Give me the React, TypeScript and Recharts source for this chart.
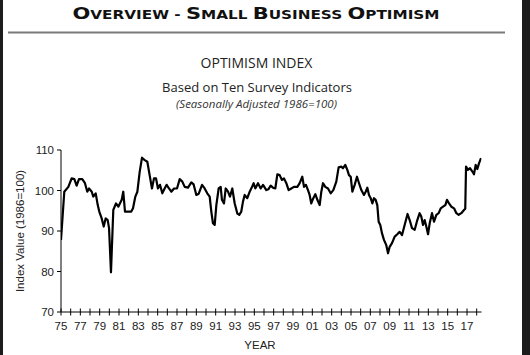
import { LineChart, Line, XAxis, YAxis } from 'recharts';

// Optimism index readings [year, value]
const seventies: [number, number][] = [
  [1975.0, 87.8], [1975.34, 99.7], [1975.76, 100.9], [1976.1, 103.0], [1976.38, 102.8],
  [1976.62, 101.2], [1976.86, 102.8], [1977.2, 102.8], [1977.48, 101.8], [1977.72, 99.7],
  [1977.9, 100.5], [1978.18, 99.7], [1978.34, 98.5], [1978.59, 99.3], [1978.8, 96.4],
  [1978.96, 94.8], [1979.21, 93.1], [1979.42, 91.1], [1979.62, 93.1], [1979.83, 92.7],
  [1979.97, 90.7],
];

const eighties: [number, number][] = [
  [1980.17, 79.8], [1980.41, 95.2], [1980.69, 96.8], [1980.93, 96.0], [1981.28, 97.7],
  [1981.44, 99.7], [1981.62, 94.8], [1982.14, 94.8], [1982.27, 94.8], [1982.45, 95.6],
  [1982.69, 98.5], [1982.9, 99.7], [1983.14, 104.6], [1983.38, 108.1], [1983.66, 107.5],
  [1983.93, 107.1], [1984.17, 103.8], [1984.41, 100.5], [1984.62, 103.0], [1984.83, 103.0],
  [1985.03, 100.5], [1985.24, 101.4], [1985.48, 99.3], [1985.72, 100.5], [1985.93, 101.4],
  [1986.17, 100.5], [1986.41, 99.7], [1986.69, 100.5], [1987.0, 100.5], [1987.28, 102.8],
  [1987.55, 102.2], [1987.8, 100.9], [1988.14, 100.7], [1988.48, 102.0], [1988.72, 101.5],
  [1989.0, 98.9], [1989.25, 99.2], [1989.59, 101.4], [1989.86, 100.5],
];

const nineties: [number, number][] = [
  [1990.13, 99.3], [1990.38, 98.5], [1990.55, 94.8], [1990.72, 91.9], [1990.9, 91.5],
  [1991.07, 96.4], [1991.31, 100.5], [1991.52, 100.9], [1991.65, 97.7], [1991.86, 96.8],
  [1992.04, 100.5], [1992.28, 99.7], [1992.48, 98.5], [1992.72, 100.5], [1992.97, 96.8],
  [1993.24, 94.3], [1993.44, 94.0], [1993.65, 94.8], [1993.83, 97.3], [1994.0, 98.9],
  [1994.27, 98.1], [1994.52, 99.7], [1994.76, 100.9], [1994.93, 101.8], [1995.1, 100.5],
  [1995.38, 101.8], [1995.66, 100.5], [1995.9, 101.4], [1996.24, 100.1], [1996.45, 100.3],
  [1996.69, 101.2], [1996.93, 100.7], [1997.17, 100.5], [1997.38, 104.0], [1997.62, 103.8],
  [1997.86, 102.6], [1998.07, 103.0], [1998.31, 101.8], [1998.55, 100.1], [1998.82, 100.5],
  [1999.1, 100.9], [1999.45, 100.9], [1999.69, 101.8], [1999.96, 103.4],
];

const noughties: [number, number][] = [
  [2000.14, 100.9], [2000.34, 101.4], [2000.55, 100.1], [2000.72, 98.9], [2000.89, 96.8],
  [2001.1, 98.1], [2001.31, 99.1], [2001.52, 97.7], [2001.76, 96.4], [2001.93, 99.7],
  [2002.1, 101.8], [2002.34, 100.9], [2002.62, 100.5], [2002.9, 99.3], [2003.17, 100.1],
  [2003.48, 102.2], [2003.72, 105.7], [2003.99, 105.9], [2004.17, 105.5], [2004.41, 106.3],
  [2004.62, 105.1], [2004.79, 103.8], [2004.97, 103.4], [2005.14, 99.7], [2005.38, 101.4],
  [2005.62, 103.4], [2005.83, 101.8], [2006.07, 100.1], [2006.34, 98.9], [2006.52, 99.7],
  [2006.69, 100.7], [2006.86, 98.9], [2007.04, 98.1], [2007.21, 96.8], [2007.38, 98.1],
  [2007.55, 97.7], [2007.72, 96.4], [2007.86, 92.3], [2008.03, 91.5], [2008.21, 89.4],
  [2008.41, 87.8], [2008.65, 86.5], [2008.83, 84.5], [2009.0, 86.1], [2009.24, 87.0],
  [2009.52, 88.6], [2009.79, 89.2],
];

const tens: [number, number][] = [
  [2010.03, 89.8], [2010.28, 89.0], [2010.55, 91.5], [2010.85, 94.2], [2011.07, 92.7],
  [2011.31, 90.7], [2011.59, 90.3], [2011.86, 92.7], [2012.1, 94.4], [2012.27, 93.6],
  [2012.45, 91.5], [2012.62, 92.7], [2012.79, 91.1], [2012.97, 89.2], [2013.14, 91.9],
  [2013.38, 94.4], [2013.59, 92.3], [2013.83, 94.0], [2014.07, 94.4], [2014.28, 95.6],
  [2014.52, 96.0], [2014.76, 96.4], [2014.93, 97.7], [2015.14, 96.8], [2015.38, 96.0],
  [2015.66, 95.6], [2015.9, 94.4], [2016.14, 94.0], [2016.41, 94.4], [2016.69, 95.2],
  [2016.82, 95.5], [2016.9, 105.9], [2017.1, 105.1], [2017.31, 105.5], [2017.52, 104.8],
  [2017.72, 104.0], [2017.9, 106.3], [2018.07, 105.3], [2018.24, 106.7], [2018.45, 108.0],
];

const yTicks = [70, 80, 90, 100, 110];
const labelYears = ['75', '77', '79', '81', '83', '85', '87', '89', '91', '93', '95',
  '97', '99', '01', '03', '05', '07', '09', '11', '13', '15', '17'];

const chartData = [...seventies, ...eighties, ...nineties, ...noughties, ...tens]
  .map(([year, value]) => ({ year, value }));

// one tick per year, label on the odd years
const yearTicks = Array.from({ length: 44 }, (_, i) => 1975 + i);

const axisFont = '"Liberation Sans", Arial, sans-serif';
const titleFont = '"Open Sans", sans-serif';

const YearTick = ({ x, y, payload }: any) => {
  const short = String(payload.value).slice(2);
  const label = labelYears.includes(short) ? short : null;
  return (
    <g>
      <line x1={x} x2={x} y1={y - 3.5} y2={y + 3.5} stroke="#000" strokeWidth={1} />
      {label && (
        <text x={x} y={y + 18} textAnchor="middle" fontSize={11.5} fontFamily={axisFont} fill="#222">
          {label}
        </text>
      )}
    </g>
  );
};

export default function App() {
  return (
    <div style={{ position: 'absolute', left: 0, top: 0, width: 530, height: 355, background: '#fff' }}>
      <svg width={530} height={355} style={{ position: 'absolute', left: 0, top: 0 }}>
        <rect x={0} y={0} width={3} height={355} fill="#1c1c1c" />
        <rect x={522} y={0} width={8} height={355} fill="#1c1c1c" />
        <text x={256} y={18.5} textAnchor="middle" fontFamily='"DejaVu Sans", sans-serif' fontWeight="bold"
          fill="#111" textLength={367} lengthAdjust="spacingAndGlyphs">
          <tspan fontSize={16.5}>O</tspan><tspan fontSize={12}>VERVIEW - </tspan>
          <tspan fontSize={16.5}>S</tspan><tspan fontSize={12}>MALL </tspan>
          <tspan fontSize={16.5}>B</tspan><tspan fontSize={12}>USINESS </tspan>
          <tspan fontSize={16.5}>O</tspan><tspan fontSize={12}>PTIMISM</tspan>
        </text>
        <line x1={8} x2={505} y1={32.5} y2={32.5} stroke="#7a7a7a" strokeWidth={1.8} />
        <text x={256.5} y={68} textAnchor="middle" fontFamily={titleFont} fontSize={14} fill="#222">
          OPTIMISM INDEX
        </text>
        <text x={257} y={92} textAnchor="middle" fontFamily={titleFont} fontSize={13} fill="#222">
          Based on Ten Survey Indicators
        </text>
        <text x={256.5} y={107.5} textAnchor="middle" fontFamily={titleFont} fontSize={11.5}
          fontStyle="italic" fill="#333">
          (Seasonally Adjusted 1986=100)
        </text>
        <text x={24} y={231} textAnchor="middle" transform="rotate(-90 24 231)" fontFamily={axisFont}
          fontSize={11.5} fill="#222">
          Index Value (1986=100)
        </text>
        <text x={260} y={349} textAnchor="middle" fontFamily={axisFont} fontSize={11.5} fill="#222">
          YEAR
        </text>
      </svg>
      <div style={{ position: 'absolute', left: 0, top: 0 }}>
        <LineChart width={530} height={355} data={chartData}
          margin={{ top: 150, right: 48.5, bottom: 13, left: 0 }}>
          <XAxis dataKey="year" type="number" domain={[1975, 2018.5]} ticks={yearTicks} interval={0}
            allowDataOverflow tick={<YearTick />} tickLine={false} tickSize={0} tickMargin={0}
            axisLine={{ stroke: '#000', strokeWidth: 1 }} height={30} />
          <YAxis type="number" domain={[70, 110]} ticks={yTicks} width={61} tickSize={4} tickMargin={3}
            axisLine={{ stroke: '#000', strokeWidth: 1 }} tickLine={{ stroke: '#000' }}
            tick={{ fontSize: 11.5, fontFamily: axisFont, fill: '#222' }} />
          <Line type="linear" dataKey="value" stroke="#000" strokeWidth={2.2} dot={false}
            strokeLinejoin="round" isAnimationActive={false} />
        </LineChart>
      </div>
    </div>
  );
}
